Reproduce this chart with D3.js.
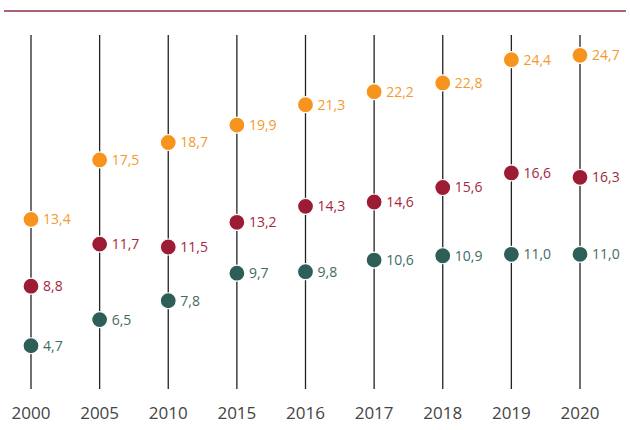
<!DOCTYPE html>
<html lang="en">
<head>
<meta charset="UTF-8">
<title>Dot columns</title>
<script src="https://cdn.jsdelivr.net/npm/d3@7"></script>
<style>
  body { margin: 0; background: #fff; }
  text { font-family: "Open Sans", sans-serif; }
</style>
</head>
<body>
<script>
// data
const years = ["2000", "2005", "2010", "2015", "2016", "2017", "2018", "2019", "2020"];
const seriesTop = [13.4, 17.5, 18.7, 19.9, 21.3, 22.2, 22.8, 24.4, 24.7];
const seriesMid = [8.8, 11.7, 11.5, 13.2, 14.3, 14.6, 15.6, 16.6, 16.3];
const seriesLow = [4.7, 6.5, 7.8, 9.7, 9.8, 10.6, 10.9, 11.0, 11.0];

const series = [
  { values: seriesLow, dot: "#2e5e58", label: "#3f6b66" },
  { values: seriesMid, dot: "#9c1c34", label: "#a3283e" },
  { values: seriesTop, dot: "#f7941d", label: "#f39a2c" }
];

const width = 630, height = 430;

const svg = d3.select("body").append("svg")
  .attr("width", width)
  .attr("height", height);

const x = d3.scalePoint().domain(years).range([31, 580]);
const y = d3.scaleLinear().domain([0, 25]).range([414, 51]);

// top rule
svg.append("line")
  .attr("x1", 4).attr("x2", 626)
  .attr("y1", 11).attr("y2", 11)
  .attr("stroke", "#8e2f42")
  .attr("stroke-width", 1.5);

// vertical stems
svg.append("g").selectAll("line")
  .data(years)
  .join("line")
  .attr("x1", d => x(d)).attr("x2", d => x(d))
  .attr("y1", 35).attr("y2", 389)
  .attr("stroke", "#222")
  .attr("stroke-width", 1.3);

// year labels
svg.append("g").selectAll("text")
  .data(years)
  .join("text")
  .attr("x", d => x(d))
  .attr("y", 419)
  .attr("text-anchor", "middle")
  .attr("font-size", 17)
  .attr("fill", "#444")
  .text(d => d);

const fmt = v => d3.format(".1f")(v).replace(".", ",");

series.forEach(s => {
  const g = svg.append("g");
  g.selectAll("circle")
    .data(s.values)
    .join("circle")
    .attr("cx", (d, i) => x(years[i]))
    .attr("cy", d => y(d))
    .attr("r", 8)
    .attr("fill", s.dot)
    .attr("stroke", "#fff")
    .attr("stroke-width", 1.2);
  g.selectAll("text")
    .data(s.values)
    .join("text")
    .attr("x", (d, i) => x(years[i]) + 12)
    .attr("y", d => y(d) + 5)
    .attr("font-size", 14)
    .attr("fill", s.label)
    .text(d => fmt(d));
});
</script>
</body>
</html>
